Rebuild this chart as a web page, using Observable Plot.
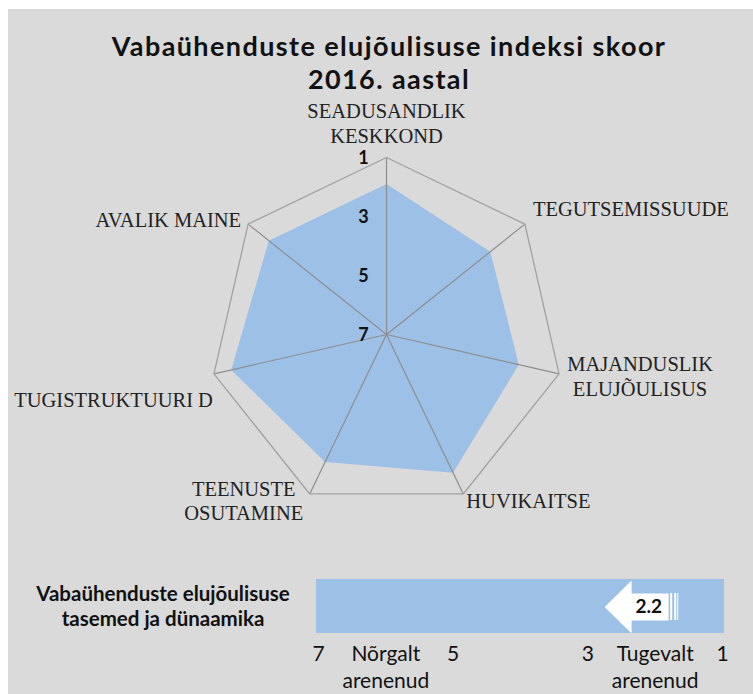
<!DOCTYPE html>
<html>
<head>
<meta charset="utf-8">
<script src="https://cdn.jsdelivr.net/npm/d3@7"></script>
<script src="https://cdn.jsdelivr.net/npm/@observablehq/plot@0.6"></script>
<style>
  body { margin: 0; background: #ffffff; width: 753px; height: 694px; overflow: hidden; position: relative; }
  #bg { position: absolute; left: 8px; top: 9px; width: 745px; height: 685px; background: #dadada; }
  .title { position: absolute; left: 0; width: 778px; text-align: center; font: bold 27px Lato, sans-serif; letter-spacing: 1.4px; line-height: normal; color: #111; white-space: nowrap; }
  #t1 { top: 29px; }
  #t2 { top: 62px; }
  #radar { position: absolute; left: 0; top: 95px; }
  #bar { position: absolute; left: 0; top: 560px; }
  #barlabel { position: absolute; left: 26px; top: 581px; width: 274px; text-align: center; font: bold 20.5px Lato, sans-serif; line-height: 24.6px; color: #111; }
</style>
</head>
<body>
<div id="bg"></div>
<div class="title" id="t1">Vabaühenduste elujõulisuse indeksi skoor</div>
<div class="title" id="t2">2016. aastal</div>
<div id="radar"></div>
<div id="barlabel">Vabaühenduste elujõulisuse<br>tasemed ja dünaamika</div>
<div id="bar"></div>
<script>
// ---- data ----
const categories = [
  "SEADUSANDLIK\nKESKKOND",
  "TEGUTSEMISSUUDE",
  "MAJANDUSLIK\nELUJÕULISUS",
  "HUVIKAITSE",
  "TEENUSTE\nOSUTAMINE",
  "TUGISTRUKTUURI D",
  "AVALIK MAINE"
];
const scores2016 = [1.9, 2.5, 2.4, 1.8, 2.2, 1.6, 1.9];
const radarTicks = [1, 3, 5, 7];
const overallScore = 2.2;
const barTicks = [7, 6, 5, 3, 2, 1];
const barTickLabels = ["7", "Nõrgalt\narenenud", "5", "3", "Tugevalt\narenenud", "1"];

// ---- styling / layout ----
const blue = "#9dc0e6";
const labelStyle = [
  {textAnchor: "middle", dx: 0, dy: -35},
  {textAnchor: "start", dx: 8, dy: -16},
  {textAnchor: "middle", dx: 81, dy: 2},
  {textAnchor: "start", dx: 3, dy: 6},
  {textAnchor: "middle", dx: -66, dy: 6},
  {textAnchor: "end", dx: -1, dy: 25},
  {textAnchor: "end", dx: -7, dy: -5}
];

// polar helpers: score 7 at centre, 1 at outer ring
const N = categories.length;
const rad = v => (7 - v) / 6;
const ang = i => i * 2 * Math.PI / N;
const pt = (i, v) => ({x: rad(v) * Math.sin(ang(i)), y: rad(v) * Math.cos(ang(i)), label: categories[i], i});

const shape = scores2016.map((v, i) => pt(i, v));
const ring = categories.map((c, i) => pt(i, 1));
const spokes = categories.map((c, i) => pt(i, 1));

const radar = Plot.plot({
  width: 753, height: 450, margin: 0,
  x: {type: "linear", domain: [-1, 1], range: [209, 563], axis: null},
  y: {type: "linear", domain: [-1, 1], range: [416, 62], axis: null},
  style: {background: "transparent", overflow: "visible"},
  marks: [
    Plot.line(shape, {x: "x", y: "y", fill: blue, stroke: "none", curve: "linear-closed"}),
    Plot.link(spokes, {x1: 0, y1: 0, x2: "x", y2: "y", stroke: "#8e8e8e", strokeWidth: 1.2}),
    Plot.line(ring, {x: "x", y: "y", stroke: "#a2a2a2", strokeWidth: 1.3, curve: "linear-closed"}),
    Plot.text(radarTicks, {x: 0, y: d => rad(d), text: d => String(d), dx: -23, dy: 1, fontSize: 18, fontWeight: "bold", fill: "#111", fontFamily: "Lato"}),
    ...spokes.map((p, i) => Plot.text([p], {
      x: "x", y: "y", text: "label",
      textAnchor: labelStyle[i].textAnchor, dx: labelStyle[i].dx, dy: labelStyle[i].dy,
      lineAnchor: "middle", lineHeight: 1.2,
      fontSize: 20.5, fontFamily: "Liberation Serif", fill: "#222"
    }))
  ]
});
document.getElementById("radar").appendChild(radar);

// ---- bottom bar ----
const s = overallScore;
const arrowPts = [
  {x: s + 0.55, y: 0.49},
  {x: s + 0.15, y: 0.98},
  {x: s + 0.15, y: 0.74},
  {x: s - 0.40, y: 0.74},
  {x: s - 0.40, y: 0.24},
  {x: s + 0.15, y: 0.24},
  {x: s + 0.15, y: 0.0}
];
const stripes = [
  {x1: s - 0.43, x2: s - 0.46},
  {x1: s - 0.49, x2: s - 0.52},
  {x1: s - 0.535, x2: s - 0.55}
];

const bar = Plot.plot({
  width: 753, height: 134,
  marginTop: 19, marginBottom: 61, marginLeft: 0, marginRight: 0,
  x: {type: "linear", domain: [7, 1], range: [318, 722], axis: null},
  y: {type: "linear", domain: [0, 1], axis: null},
  style: {background: "transparent", overflow: "visible"},
  marks: [
    Plot.rect([s], {x1: 7, x2: 1, y1: 0, y2: 1, fill: blue, insetLeft: -2, insetRight: -2}),
    Plot.line(arrowPts, {x: "x", y: "y", fill: "white", stroke: "none", curve: "linear-closed"}),
    Plot.rect(stripes, {x1: "x1", x2: "x2", y1: 0.24, y2: 0.74, fill: "white"}),
    Plot.text([s], {x: d => d, y: 0.49, text: d => d.toFixed(1), dx: 7, fontSize: 19, fontWeight: "bold", fill: "#111", fontFamily: "Lato"}),
    Plot.text(barTicks, {x: d => d, frameAnchor: "bottom", lineAnchor: "top", dy: 8,
      text: (d, i) => barTickLabels[i], fontSize: 21, lineHeight: 1.3, fill: "#111", fontFamily: "Lato"})
  ]
});
document.getElementById("bar").appendChild(bar);
</script>
</body>
</html>
